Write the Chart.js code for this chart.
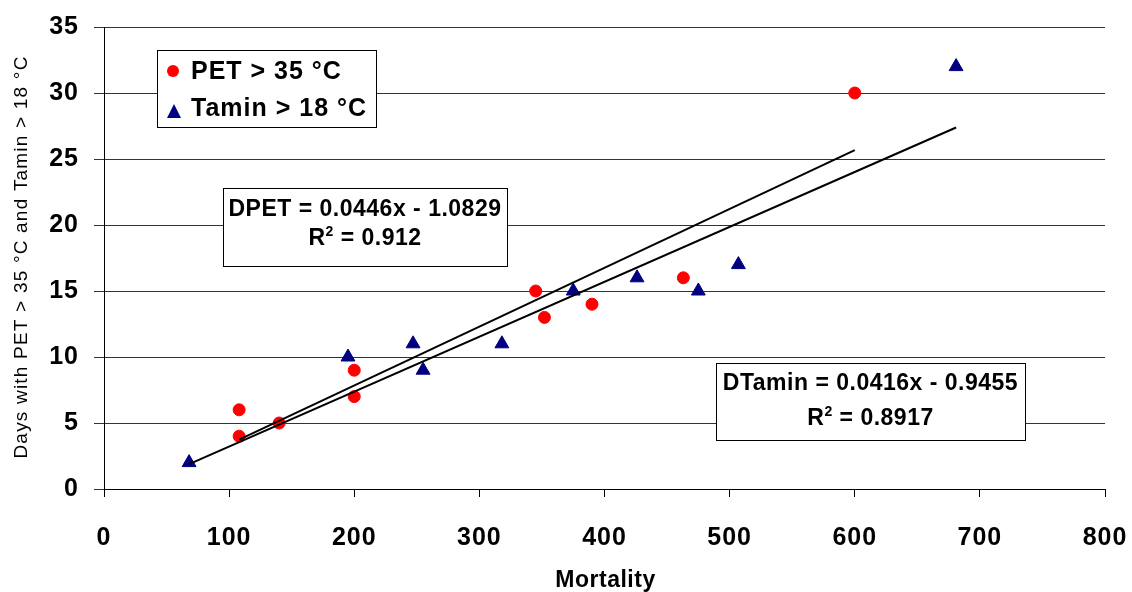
<!DOCTYPE html>
<html>
<head>
<meta charset="utf-8">
<script src="https://cdn.jsdelivr.net/npm/chart.js@4.4.0/dist/chart.umd.min.js"></script>
<style>
  html, body { margin: 0; padding: 0; background: #fff; }
  #wrap { width: 1132px; height: 592px; }
</style>
</head>
<body>
<div id="wrap"><canvas id="myChart" width="1132" height="592"></canvas></div>
<script>
// datos
const petMortality = [108, 108, 140, 200, 200, 345, 352, 390, 463, 600];
const petDays = [6, 4, 5, 9, 7, 15, 13, 14, 16, 30];
const taminMortality = [68, 195, 247, 255, 318, 375, 426, 475, 507, 681];
const taminDays = [2, 10, 11, 9, 11, 15, 16, 15, 17, 32];

// rectas de regresion (del texto del grafico)
const petSlope = 0.0446;
const petIntercept = -1.0829;
const petR2 = '0.912';
const taminSlope = 0.0416;
const taminIntercept = -0.9455;
const taminR2 = '0.8917';

const xTicks = [0, 100, 200, 300, 400, 500, 600, 700, 800];
const yTicks = [0, 5, 10, 15, 20, 25, 30, 35];

const font = 'Liberation Sans, Arial, sans-serif';

const toPoints = (xs, ys) => xs.map((x, i) => ({ x: x, y: ys[i] }));
const trend = (xs, m, b) => {
    const x0 = Math.min(...xs);
    const x1 = Math.max(...xs);
    return [{ x: x0, y: m * x0 + b }, { x: x1, y: m * x1 + b }];
};

// un poco de espaciado en los numeros de los ejes
const spacingPlugin = {
    id: 'spacing',
    beforeDraw(chart) {
        chart.ctx.letterSpacing = '1px';
    }
};

// leyenda, titulos y cuadros de texto dibujados a mano
const boxesPlugin = {
    id: 'boxes',
    afterDraw(chart) {
        const ctx = chart.ctx;
        const area = chart.chartArea;
        ctx.save();

        const box = (x, y, w, h) => {
            ctx.fillStyle = '#fff';
            ctx.fillRect(x, y, w, h);
            ctx.strokeStyle = '#000';
            ctx.lineWidth = 1;
            ctx.strokeRect(x + 0.5, y + 0.5, w, h);
        };

        // titulos de los ejes
        ctx.fillStyle = '#000';
        ctx.textAlign = 'center';
        ctx.textBaseline = 'middle';
        ctx.letterSpacing = '0.5px';
        ctx.font = 'bold 23px ' + font;
        ctx.fillText('Mortality', (area.left + area.right) / 2 + 1, 581);

        ctx.save();
        ctx.translate(22, (area.top + area.bottom) / 2 - 1);
        ctx.rotate(-Math.PI / 2);
        ctx.font = '19px ' + font;
        ctx.letterSpacing = '1.2px';
        ctx.fillText('Days with PET > 35 °C and Tamin > 18 °C', 0, 0);
        ctx.restore();

        // leyenda
        box(157, 50, 219, 77);
        ctx.fillStyle = '#ff0000';
        ctx.beginPath();
        ctx.arc(173, 71, 6, 0, Math.PI * 2);
        ctx.fill();
        ctx.fillStyle = '#000080';
        ctx.beginPath();
        ctx.moveTo(174, 104);
        ctx.lineTo(181, 118);
        ctx.lineTo(167, 118);
        ctx.closePath();
        ctx.fill();
        ctx.fillStyle = '#000';
        ctx.font = 'bold 25px ' + font;
        ctx.letterSpacing = '1px';
        ctx.textAlign = 'left';
        ctx.fillText('PET > 35 °C', 191, 72);
        ctx.fillText('Tamin > 18 °C', 191, 109);

        // ecuaciones
        const eq = (x, y, w, h, line1, r2, y1, y2) => {
            box(x, y, w, h);
            const cx = x + w / 2;
            ctx.fillStyle = '#000';
            ctx.letterSpacing = '0.5px';
            ctx.font = 'bold 23px ' + font;
            ctx.textAlign = 'center';
            ctx.fillText(line1, cx, y + y1);
            const rest = ' = ' + r2;
            const wR = ctx.measureText('R').width;
            const wRest = ctx.measureText(rest).width;
            ctx.font = 'bold 14px ' + font;
            const w2 = ctx.measureText('2').width;
            const sx = cx - (wR + w2 + wRest) / 2;
            ctx.textAlign = 'left';
            ctx.fillText('2', sx + wR, y + y2 - 7);
            ctx.font = 'bold 23px ' + font;
            ctx.fillText('R', sx, y + y2);
            ctx.fillText(rest, sx + wR + w2, y + y2);
        };
        eq(223, 188, 284, 78, 'DPET = ' + petSlope + 'x - ' + Math.abs(petIntercept), petR2, 22, 51);
        eq(716, 363, 309, 77, 'DTamin = ' + taminSlope + 'x - ' + Math.abs(taminIntercept), taminR2, 21, 56);

        ctx.restore();
    }
};

const cv = document.querySelector('#myChart').getContext('2d');
const myChart = new Chart(cv, {
    type: 'scatter',
    data: {
        datasets: [
            {
                label: 'PET > 35 °C',
                data: toPoints(petMortality, petDays),
                backgroundColor: '#ff0000',
                borderColor: '#ff0000',
                pointStyle: 'circle',
                pointRadius: 6,
                order: 2
            },
            {
                label: 'Tamin > 18 °C',
                data: toPoints(taminMortality, taminDays),
                backgroundColor: '#000080',
                borderColor: '#000080',
                pointStyle: 'triangle',
                pointRadius: 8,
                order: 2
            },
            {
                label: 'DPET',
                data: trend(petMortality, petSlope, petIntercept),
                showLine: true,
                borderColor: '#000',
                borderWidth: 2,
                pointRadius: 0,
                order: 1
            },
            {
                label: 'DTamin',
                data: trend(taminMortality, taminSlope, taminIntercept),
                showLine: true,
                borderColor: '#000',
                borderWidth: 2,
                pointRadius: 0,
                order: 1
            }
        ]
    },
    options: {
        responsive: false,
        animation: false,
        layout: { padding: { top: 27, right: 27, left: 0, bottom: 0 } },
        plugins: {
            legend: { display: false },
            tooltip: { enabled: false }
        },
        scales: {
            x: {
                type: 'linear',
                min: 0,
                max: 800,
                afterBuildTicks: (s) => { s.ticks = xTicks.map(v => ({ value: v })); },
                afterFit: (s) => { s.height = 103; s.paddingLeft = 0; s.paddingRight = 0; },
                border: { color: '#000', width: 1 },
                grid: { drawOnChartArea: false, drawTicks: true, tickLength: 8, color: '#000' },
                ticks: {
                    color: '#000',
                    padding: 26,
                    maxRotation: 0,
                    font: { family: font, size: 25, weight: 'bold' }
                }
            },
            y: {
                type: 'linear',
                min: 0,
                max: 35,
                afterBuildTicks: (s) => { s.ticks = yTicks.map(v => ({ value: v })); },
                afterFit: (s) => { s.width = 104; s.paddingTop = 0; s.paddingBottom = 0; },
                border: { color: '#000', width: 1 },
                grid: { color: '#333', lineWidth: 1, tickLength: 10 },
                ticks: {
                    color: '#000',
                    padding: 15,
                    font: { family: font, size: 25, weight: 'bold' }
                }
            }
        }
    },
    plugins: [spacingPlugin, boxesPlugin]
});
</script>
</body>
</html>
